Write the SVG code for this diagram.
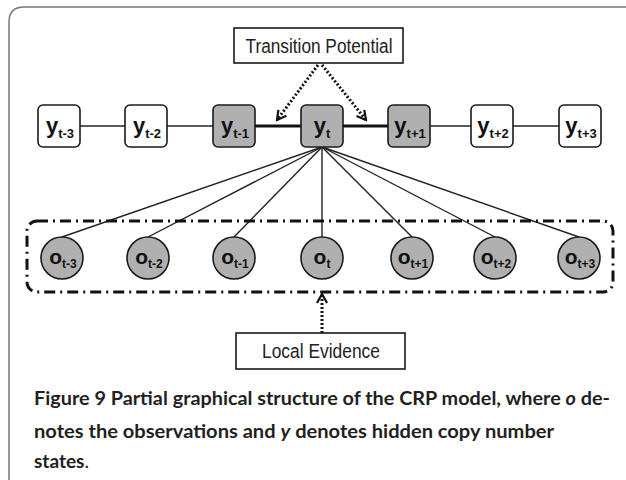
<svg xmlns="http://www.w3.org/2000/svg" width="626" height="480" viewBox="0 0 626 480">
<style>
.frame{fill:none;stroke:#777;stroke-width:1.5}
.box{fill:#fff;stroke:#1a1a1a;stroke-width:1.6}
.shaded{fill:#b0b0b0;stroke:#1a1a1a;stroke-width:1.6}
.lbl{font-family:"Liberation Sans",Arial,sans-serif;font-weight:bold;font-size:22px;fill:#111}
.sub{font-size:13px}
.olbl{font-family:"Liberation Sans",Arial,sans-serif;font-weight:bold;font-size:21px;fill:#111}
.osub{font-size:12px}
.name{font-family:"Liberation Sans",Arial,sans-serif;font-size:20px;fill:#222}
.thin{stroke:#222;stroke-width:1.4;fill:none}
.thick{stroke:#111;stroke-width:3;fill:none}
.dotted{stroke:#111;stroke-width:3;stroke-dasharray:2 2;fill:none}
.group{fill:none;stroke:#111;stroke-width:3;stroke-dasharray:11 5 2 5}
.cap{font-family:Lato,"Open Sans",sans-serif;font-size:19px;font-weight:bold;fill:#231f20}
</style>
<defs>
<marker id="chev" viewBox="0 0 12 12" refX="10" refY="6" markerWidth="12" markerHeight="12" orient="auto" markerUnits="userSpaceOnUse">
<path d="M1,1 L10,6 L1,11" fill="none" stroke="#111" stroke-width="2.2" stroke-linejoin="miter"/>
</marker>
</defs>
<path class="frame" d="M9,480 L9,22 Q9,7 24,7 L626,7"/>
<g id="connectors">
<line class="thin" x1="80" y1="126" x2="125" y2="126"/>
<line class="thin" x1="167" y1="126" x2="213" y2="126"/>
<line class="thick" x1="255" y1="126" x2="301" y2="126"/>
<line class="thick" x1="343" y1="126" x2="388" y2="126"/>
<line class="thin" x1="430" y1="126" x2="471" y2="126"/>
<line class="thin" x1="513" y1="126" x2="559" y2="126"/>
<line class="thin" x1="322" y1="147" x2="62" y2="237"/>
<line class="thin" x1="322" y1="147" x2="148" y2="237"/>
<line class="thin" x1="322" y1="147" x2="234" y2="237"/>
<line class="thin" x1="322" y1="147" x2="322" y2="237"/>
<line class="thin" x1="322" y1="147" x2="412" y2="237"/>
<line class="thin" x1="322" y1="147" x2="495" y2="237"/>
<line class="thin" x1="322" y1="147" x2="579" y2="237"/>
<line class="dotted" x1="318" y1="65" x2="277" y2="120" marker-end="url(#chev)"/>
<line class="dotted" x1="322" y1="65" x2="366" y2="120" marker-end="url(#chev)"/>
<line class="dotted" x1="322" y1="333" x2="322" y2="294" marker-end="url(#chev)"/>
</g>
<g id="local-group"><rect class="group" x="27" y="221" width="586" height="71" rx="10"/></g>
<g id="transition-potential"><rect class="box" x="234" y="28" width="169" height="35" stroke-width="1.4"/><text class="name" x="319" y="53" text-anchor="middle" textLength="147" lengthAdjust="spacingAndGlyphs">Transition Potential</text></g>
<g id="local-evidence"><rect class="box" x="236" y="333" width="169" height="36" stroke-width="1.4"/><text class="name" x="321" y="358" text-anchor="middle" textLength="118" lengthAdjust="spacingAndGlyphs">Local Evidence</text></g>
<g id="y-t-3"><rect class="box" x="38" y="105" width="42" height="42" rx="5"/><text class="lbl" x="60" y="133" text-anchor="middle">y<tspan class="sub" dy="5">t-3</tspan></text></g>
<g id="y-t-2"><rect class="box" x="125" y="105" width="42" height="42" rx="5"/><text class="lbl" x="147" y="133" text-anchor="middle">y<tspan class="sub" dy="5">t-2</tspan></text></g>
<g id="y-t-1"><rect class="shaded" x="213" y="105" width="42" height="42" rx="5"/><text class="lbl" x="235" y="133" text-anchor="middle">y<tspan class="sub" dy="5">t-1</tspan></text></g>
<g id="y-t"><rect class="shaded" x="301" y="105" width="42" height="42" rx="5"/><text class="lbl" x="322" y="133" text-anchor="middle">y<tspan class="sub" dy="5">t</tspan></text></g>
<g id="y-t+1"><rect class="shaded" x="388" y="105" width="42" height="42" rx="5"/><text class="lbl" x="410" y="133" text-anchor="middle">y<tspan class="sub" dy="5">t+1</tspan></text></g>
<g id="y-t+2"><rect class="box" x="471" y="105" width="42" height="42" rx="5"/><text class="lbl" x="493" y="133" text-anchor="middle">y<tspan class="sub" dy="5">t+2</tspan></text></g>
<g id="y-t+3"><rect class="box" x="559" y="105" width="42" height="42" rx="5"/><text class="lbl" x="581" y="133" text-anchor="middle">y<tspan class="sub" dy="5">t+3</tspan></text></g>
<g id="o-t-3"><circle class="shaded" cx="62" cy="258" r="21"/><text class="olbl" x="63" y="264" text-anchor="middle">o<tspan class="osub" dy="4">t-3</tspan></text></g>
<g id="o-t-2"><circle class="shaded" cx="148" cy="258" r="21"/><text class="olbl" x="149" y="264" text-anchor="middle">o<tspan class="osub" dy="4">t-2</tspan></text></g>
<g id="o-t-1"><circle class="shaded" cx="234" cy="258" r="21"/><text class="olbl" x="235" y="264" text-anchor="middle">o<tspan class="osub" dy="4">t-1</tspan></text></g>
<g id="o-t"><circle class="shaded" cx="322" cy="258" r="21"/><text class="olbl" x="322" y="264" text-anchor="middle">o<tspan class="osub" dy="4">t</tspan></text></g>
<g id="o-t+1"><circle class="shaded" cx="412" cy="258" r="21"/><text class="olbl" x="413" y="264" text-anchor="middle">o<tspan class="osub" dy="4">t+1</tspan></text></g>
<g id="o-t+2"><circle class="shaded" cx="495" cy="258" r="21"/><text class="olbl" x="496" y="264" text-anchor="middle">o<tspan class="osub" dy="4">t+2</tspan></text></g>
<g id="o-t+3"><circle class="shaded" cx="579" cy="258" r="21"/><text class="olbl" x="580" y="264" text-anchor="middle">o<tspan class="osub" dy="4">t+3</tspan></text></g>
<g id="caption">
<text class="cap" x="34" y="405" textLength="576" lengthAdjust="spacingAndGlyphs">Figure 9 Partial graphical structure of the CRP model, where <tspan font-style="italic">o</tspan> de-</text>
<text class="cap" x="34" y="438" textLength="520" lengthAdjust="spacingAndGlyphs">notes the observations and <tspan font-style="italic">y</tspan> denotes hidden copy number</text>
<text class="cap" x="34" y="468">states<tspan font-weight="normal">.</tspan></text>
</g>
</svg>
